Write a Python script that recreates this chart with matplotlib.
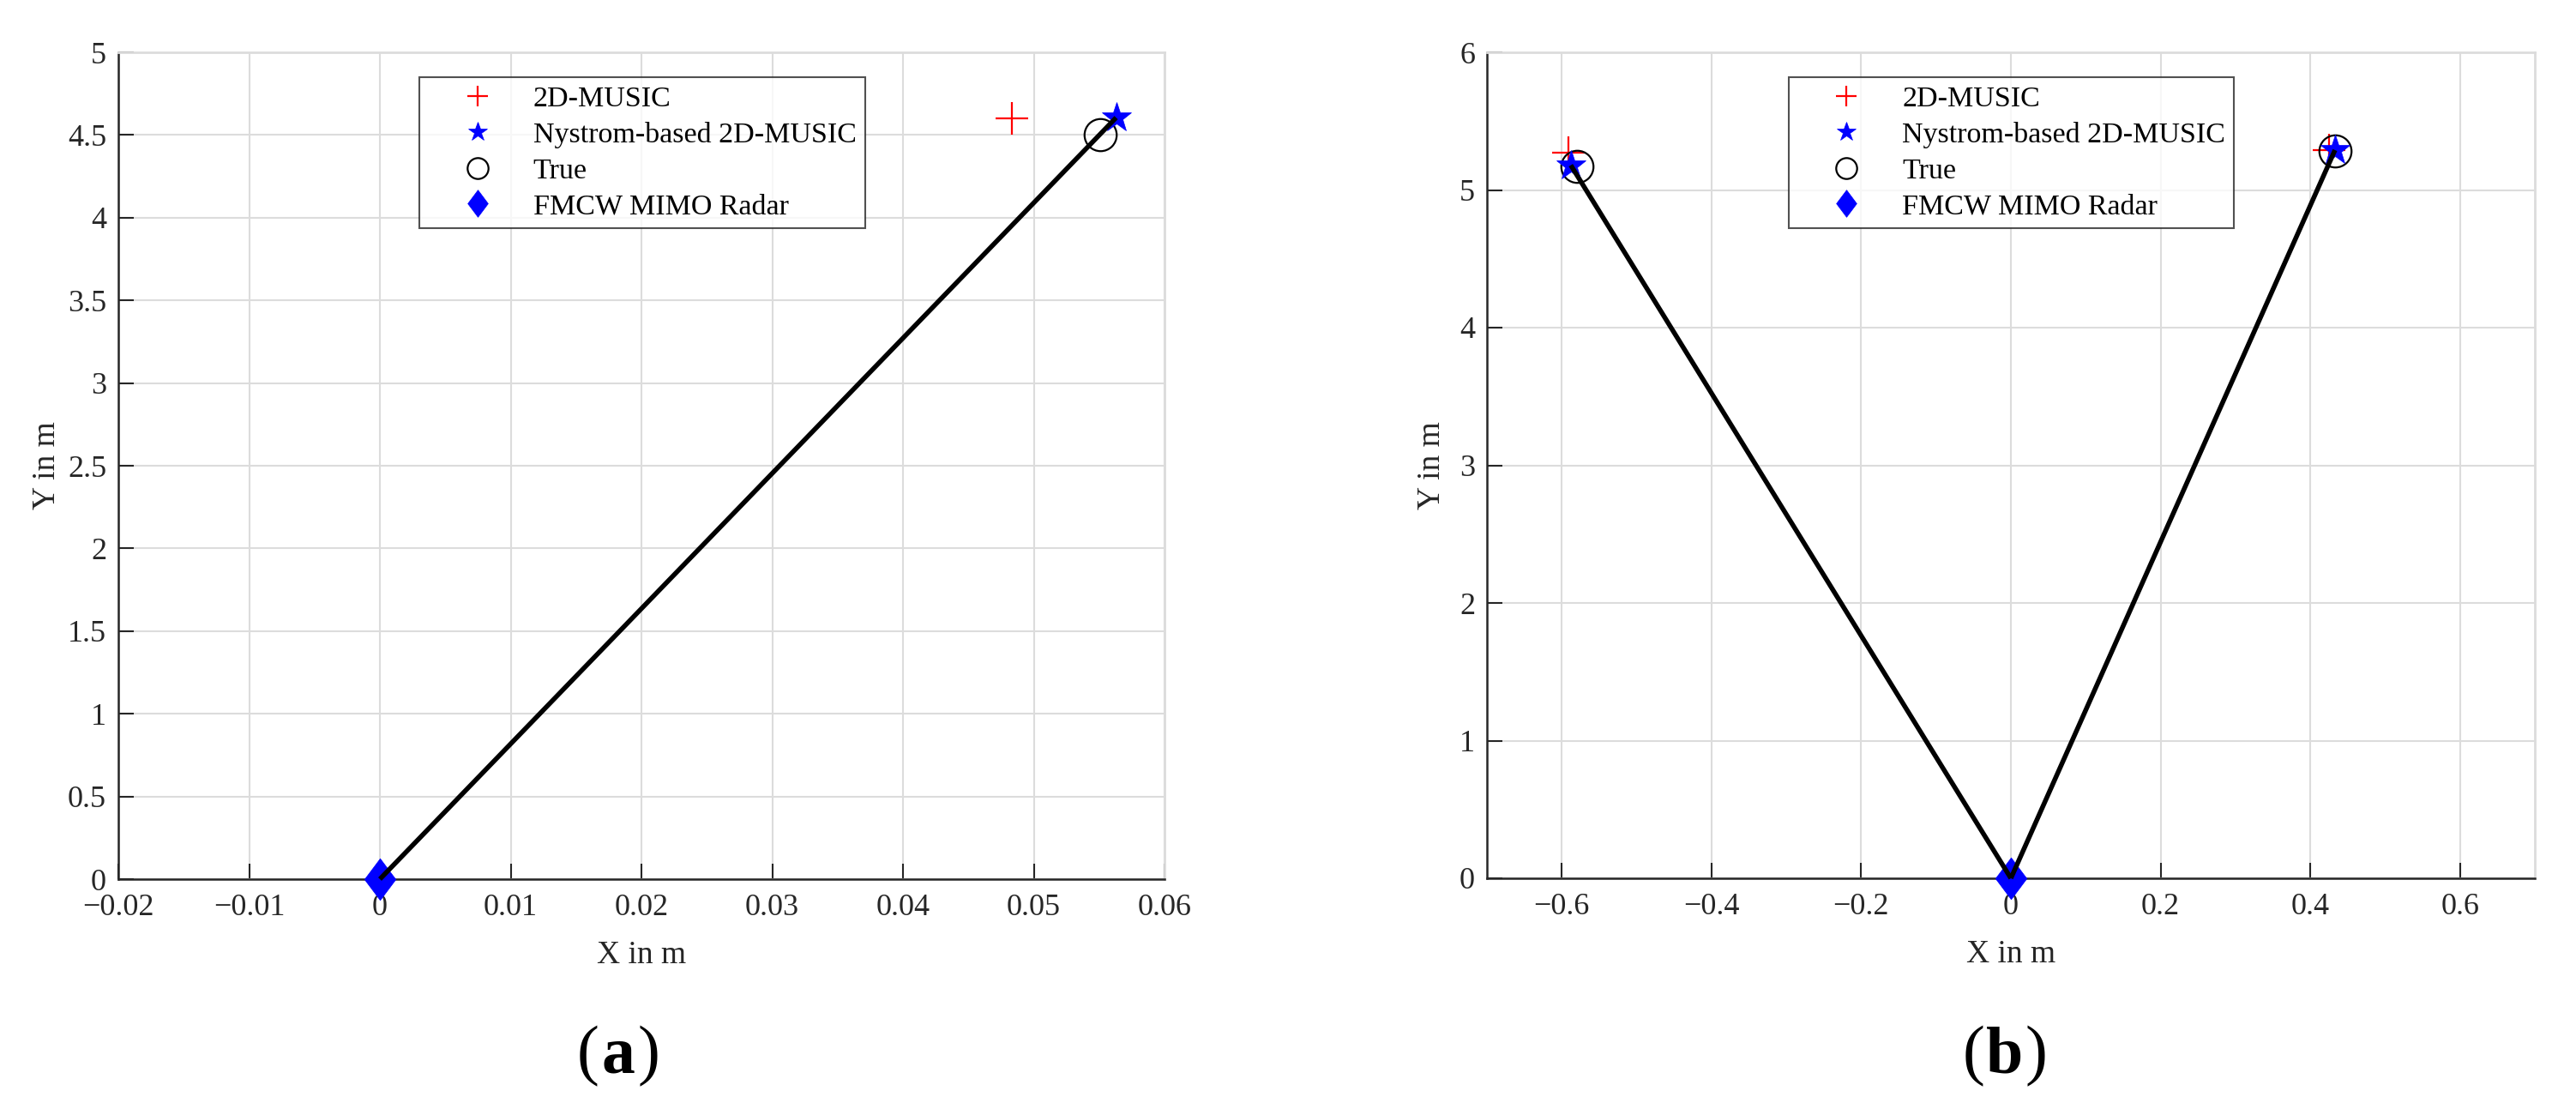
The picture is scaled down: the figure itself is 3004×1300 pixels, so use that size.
import matplotlib
matplotlib.use("Agg")
import matplotlib.pyplot as plt
import numpy as np
from matplotlib.path import Path

plt.rcParams['font.family'] = ['Liberation Serif', 'DejaVu Serif']
plt.rcParams['axes.unicode_minus'] = True

# Panel (a)
a_music_x = [0.0483]; a_music_y = [4.60]
a_nys_x = [0.0563]; a_nys_y = [4.605]
a_true_x = [0.0551]; a_true_y = [4.50]
radar_x = [0.0]; radar_y = [0.0]
a_xticks = [-0.02, -0.01, 0, 0.01, 0.02, 0.03, 0.04, 0.05, 0.06]
a_yticks = [0, 0.5, 1, 1.5, 2, 2.5, 3, 3.5, 4, 4.5, 5]

# Panel (b)
b_music_x = [-0.591, 0.425]; b_music_y = [5.27, 5.29]
b_nys_x = [-0.588, 0.433]; b_nys_y = [5.18, 5.29]
b_true_x = [-0.580, 0.433]; b_true_y = [5.17, 5.285]
b_xticks = [-0.6, -0.4, -0.2, 0, 0.2, 0.4, 0.6]
b_yticks = [0, 1, 2, 3, 4, 5, 6]

labels = ['2D-MUSIC', 'Nystrom-based 2D-MUSIC', 'True', 'FMCW MIMO Radar']
panel_labels = ['a', 'b']

diamond = Path([(0, 1), (0.75, 0), (0, -1), (-0.75, 0), (0, 1)],
               [Path.MOVETO, Path.LINETO, Path.LINETO, Path.LINETO, Path.CLOSEPOLY])

fig = plt.figure(figsize=(30.04, 13.0), dpi=100)
W, H = 3004, 1300
ax1 = fig.add_axes([138 / W, 1 - 1025 / H, (1358 - 138) / W, (1025 - 61) / H])
ax2 = fig.add_axes([1734 / W, 1 - 1024 / H, (2956 - 1734) / W, (1024 - 61) / H])

def draw(ax, mx, my, nx, ny, tx, ty, xlim, ylim, xticks, yticks, xfmt, ylabelpad):
    ax.plot(mx, my, linestyle='none', marker='+', color='red', markersize=27,
            markeredgewidth=1.6, label=labels[0], zorder=3)
    ax.plot(nx, ny, linestyle='none', marker='*', color='blue', markersize=26,
            markeredgewidth=0.5, label=labels[1], zorder=4)
    ax.plot(tx, ty, linestyle='none', marker='o', markerfacecolor='none',
            markeredgecolor='black', markersize=27, markeredgewidth=1.6,
            label=labels[2], zorder=3)
    ax.plot(radar_x, radar_y, linestyle='none', marker=diamond, color='blue',
            markersize=35, markeredgewidth=0.5, label=labels[3], zorder=4,
            clip_on=False)
    for x, y in zip(nx, ny):
        ax.plot([radar_x[0], x], [radar_y[0], y], color='black', linewidth=4.0,
                zorder=5, solid_capstyle='butt', clip_on=False)
    ax.set_xlim(*xlim)
    ax.set_ylim(*ylim)
    ax.set_xticks(xticks)
    ax.set_yticks(yticks)
    ax.set_xticklabels([xfmt(v) for v in xticks])
    ax.set_yticklabels([('%g' % v) for v in yticks])
    ax.grid(True, color='#dcdcdc', linewidth=1.5)
    ax.set_axisbelow(True)
    ax.tick_params(direction='in', length=13, width=1.5, colors='#262626',
                   labelsize=26, pad=10)
    ax.tick_params(axis='x', pad=12)
    for s in ['left', 'bottom']:
        ax.spines[s].set_color('#262626')
        ax.spines[s].set_linewidth(1.8)
    for s in ['top', 'right']:
        ax.spines[s].set_color('#dcdcdc')
        ax.spines[s].set_linewidth(2.0)
    ax.set_xlabel('X in m', fontsize=27, color='#262626', labelpad=16)
    ax.set_ylabel('Y in m', fontsize=27, color='#262626', labelpad=ylabelpad)
    leg = ax.legend(loc='upper left', bbox_to_anchor=(0.288, 0.970), fontsize=24.5,
                    frameon=True, fancybox=False, edgecolor='#262626',
                    handlelength=3.35, handletextpad=0.24, borderpad=0.3,
                    labelspacing=0.32, borderaxespad=0.0, markerscale=0.65)
    leg.get_frame().set_linewidth(1.5)
    leg.set_zorder(10)

def fmt_a(v):
    if v == 0:
        return '0'
    s = '%.2f' % abs(v)
    return ('\u2212' if v < 0 else '') + s

def fmt_b(v):
    if abs(v) < 1e-9:
        return '0'
    s = '%.1f' % abs(v)
    return ('\u2212' if v < 0 else '') + s

draw(ax1, a_music_x, a_music_y, a_nys_x, a_nys_y, a_true_x, a_true_y,
     (-0.02, 0.06), (0, 5), a_xticks, a_yticks, fmt_a, 5)
draw(ax2, b_music_x, b_music_y, b_nys_x, b_nys_y, b_true_x, b_true_y,
     (-0.7, 0.7), (0, 6), b_xticks, b_yticks, fmt_b, 11)

for label, xc in zip(panel_labels, [721, 2338]):
    y = 1 - 1232 / H
    fig.text((xc - 23) / W, y, '(', fontsize=56, ha='right', va='center')
    fig.text(xc / W, y, label, fontsize=56, ha='center', va='center',
             fontweight='bold')
    fig.text((xc + 23) / W, y, ')', fontsize=56, ha='left', va='center')

fig.savefig('out.png', dpi=100, facecolor='white')
